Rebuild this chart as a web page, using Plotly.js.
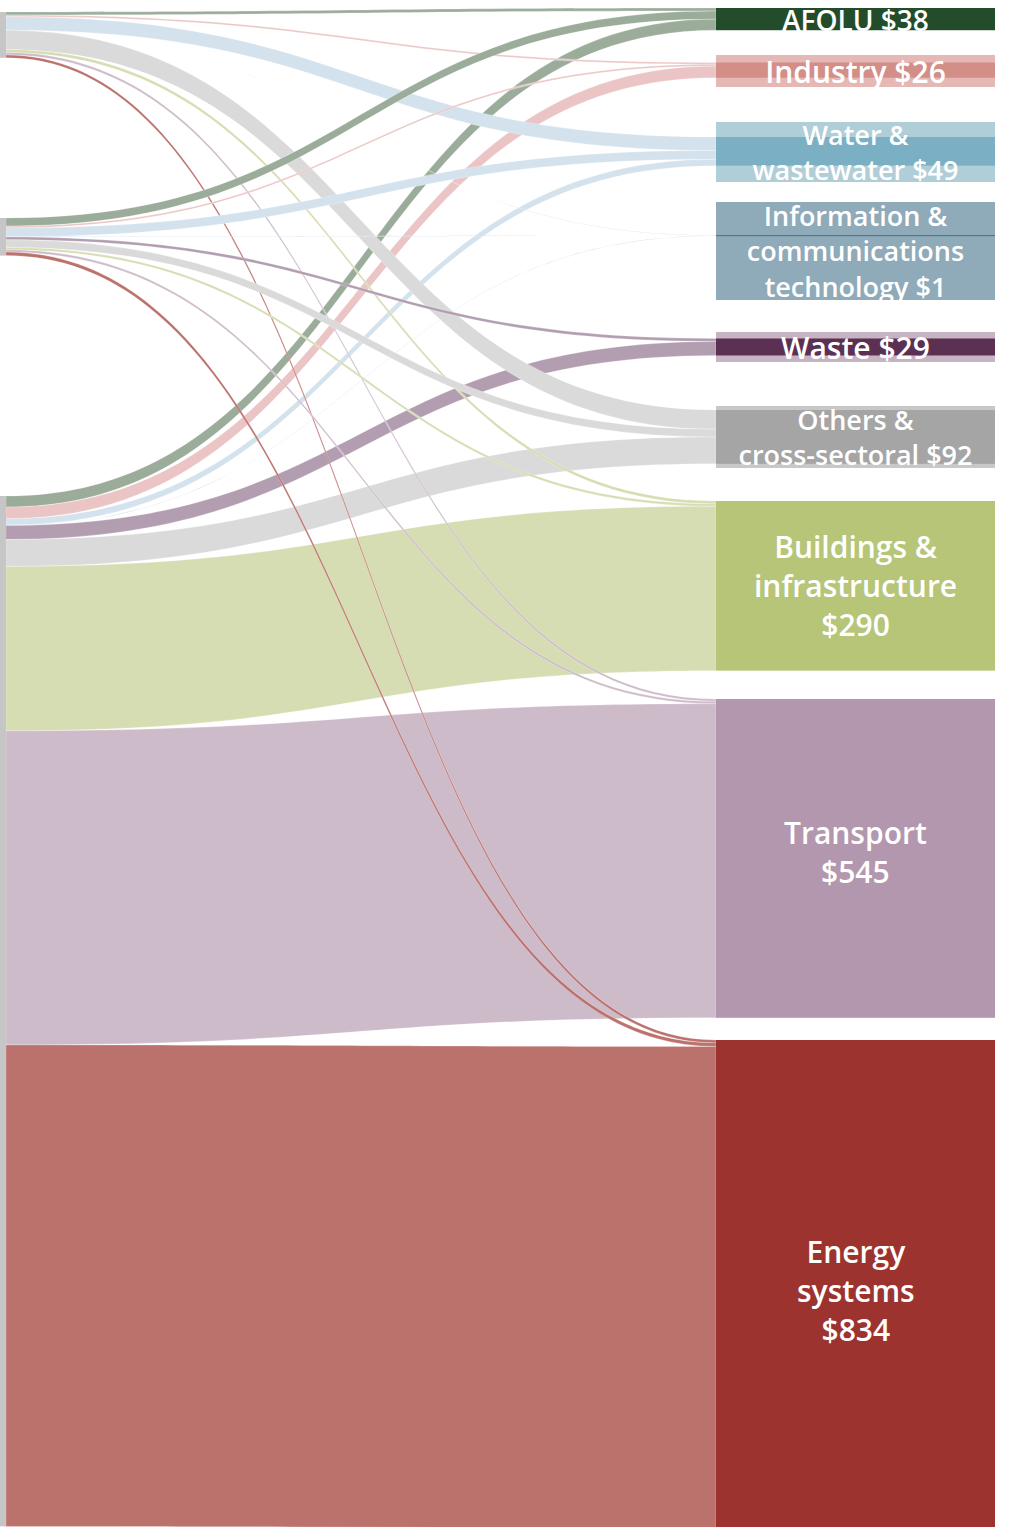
<!DOCTYPE html>
<html>
<head>
<meta charset="utf-8">
<script src="https://cdn.plot.ly/plotly-3.0.1.min.js"></script>
<style>html,body{margin:0;padding:0;background:#ffffff;}</style>
</head>
<body>
<div id="chart" style="width:1025px;height:1527px;"></div>
<script>
// ---------------- DATA ----------------
const sourceNames = ['Source 1', 'Source 2', 'Source 3'];
const sectorNames = ['AFOLU', 'Industry', 'Water & wastewater',
  'Information & communications technology', 'Waste',
  'Others & cross-sectoral', 'Buildings & infrastructure', 'Transport', 'Energy systems'];
const sectorTotals = [38, 26, 49, 1, 29, 92, 290, 545, 834];
// label lines as printed on the chart
const sectorLabelLines = [
  ['AFOLU $38'],
  ['Industry $26'],
  ['Water &', 'wastewater $49'],
  ['Information &', 'communications', 'technology $1'],
  ['Waste $29'],
  ['Others &', 'cross-sectoral $92'],
  ['Buildings &', 'infrastructure', '$290'],
  ['Transport', '$545'],
  ['Energy', 'systems', '$834']
];
// flows from each source to each sector (same order as sectorNames)
const flowsSource1 = [5, 3, 23, 0.3, 0, 33, 5, 4, 5];
const flowsSource2 = [14, 3, 15, 0.3, 5, 13, 4, 4, 6];
const flowsSource3 = [19, 20, 11, 0.4, 24, 46, 281, 537, 823];

// ---------------- STYLE / LAYOUT ----------------
const W = 1025, H = 1527;
const nodePad = 51.65;
const thickness = 279;
const ky = (H - (sectorNames.length - 1) * nodePad) / sectorTotals.reduce((a, b) => a + b, 0);

const sourceTopPx = [12, 218, 496];
const sectorTopPx = [8, 62.5, 137, 235.5, 338.5, 410, 501, 699, 1040];
const labelCenterPx = [20, 71, 152, 251, 347, 437, 585, 852, 1290];
const labelBoxH = [0, 32, 60, 98, 30, 62, 0, 0, 0];
const labelFontSize = [28, 30, 27, 27, 30, 27, 30, 30, 30];

const sourceColor = '#c6c6c6';
// sector node colours (under semi-transparent label boxes where boxed)
const sectorNodeColors = ['#234d2a', '#dbada3', '#95c1d7', '#0c4662', '#4b2343', '#b9b9b9', '#b6c578', '#b297ae', '#9d332e'];
const labelBoxColors = [null, 'rgba(203,111,107,0.5)', 'rgba(97,157,177,0.5)', 'rgba(17,74,104,0.47)',
  'rgba(115,68,105,0.4)', 'rgba(145,145,145,0.5)', null, null, null];
const linkColors = ['#9bac9b', '#ebc5c5', '#d3e2ec', '#b0c4d2', '#b29eb0', '#dadada', '#d6ddb2', '#cebbca', '#bb716c'];

// ---------------- BUILD ----------------
const nSrc = sourceNames.length;
const labels = sourceNames.concat(sectorNames);
const sourceFlows = [flowsSource1, flowsSource2, flowsSource3];
const sourceValues = sourceFlows.map(f => f.reduce((a, b) => a + b, 0));

const nodeX = [], nodeY = [], nodeColors = [];
sourceNames.forEach((s, i) => {
  nodeX.push((6 - thickness / 2) / W);
  nodeY.push((sourceTopPx[i] + sourceValues[i] * ky / 2) / H);
  nodeColors.push(sourceColor);
});
sectorNames.forEach((s, j) => {
  nodeX.push((716 + thickness / 2) / W);
  nodeY.push((sectorTopPx[j] + sectorTotals[j] * ky / 2) / H);
  nodeColors.push(sectorNodeColors[j]);
});

// draw the big source first so thin lines stay on top
const src = [], tgt = [], val = [], lcol = [];
[2, 0, 1].forEach(i => {
  sourceFlows[i].forEach((v, j) => {
    if (v > 0) {
      src.push(i); tgt.push(nSrc + j); val.push(v); lcol.push(linkColors[j]);
    }
  });
});

const fontFamily = '"Open Sans", Lato, sans-serif';
const annotations = [];
sectorNames.forEach((s, j) => {
  const ann = {
    xref: 'paper', yref: 'paper',
    x: (716 + thickness / 2) / W, y: 1 - labelCenterPx[j] / H,
    xanchor: 'center', yanchor: 'middle',
    text: sectorLabelLines[j].join('<br>'), showarrow: false,
    font: {family: fontFamily, size: labelFontSize[j], color: '#ffffff', weight: 600},
    borderpad: 0, borderwidth: 0
  };
  if (labelBoxColors[j]) {
    ann.bgcolor = labelBoxColors[j];
    ann.width = thickness;
    ann.height = labelBoxH[j];
  }
  annotations.push(ann);
});

const trace = {
  type: 'sankey',
  arrangement: 'fixed',
  orientation: 'h',
  domain: {x: [0, 1], y: [0, 1]},
  node: {
    label: labels,
    x: nodeX, y: nodeY,
    pad: nodePad, thickness: thickness,
    color: nodeColors,
    line: {width: 0},
    hoverinfo: 'none'
  },
  link: {
    source: src, target: tgt, value: val, color: lcol,
    line: {color: '#ffffff', width: 0.25},
    hoverinfo: 'none'
  },
  textfont: {color: 'rgba(0,0,0,0)', size: 1}
};

const layout = {
  width: W, height: H,
  margin: {l: 0, r: 0, t: 0, b: 0},
  paper_bgcolor: '#ffffff',
  font: {family: fontFamily},
  annotations: annotations,
  showlegend: false
};

Plotly.newPlot('chart', [trace], layout, {displayModeBar: false, staticPlot: true});
</script>
</body>
</html>
